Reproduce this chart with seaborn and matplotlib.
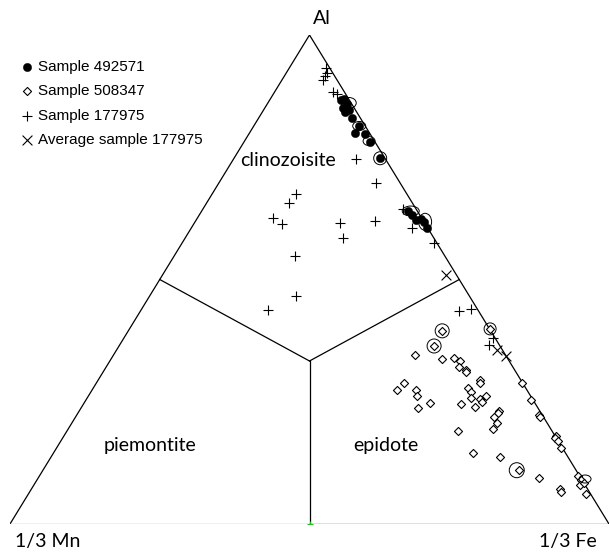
import numpy as np
import pandas as pd
import matplotlib
matplotlib.use("Agg")
import matplotlib.pyplot as plt
import seaborn as sns
from matplotlib.patches import Ellipse

# ---- data: ternary compositions in % (Al, Fe); Mn = 100 - Al - Fe ----
s492571_al = [86.7, 86.9, 85.9, 85.1, 84.3, 84.7, 83.0, 81.4, 80.0, 79.8, 78.1, 74.8,
              64.0, 63.2, 62.2, 62.4, 61.8, 60.5]
s492571_fe = [11.9, 12.3, 13.3, 13.0, 13.8, 14.2, 15.6, 17.6, 17.6, 19.4, 21.0, 24.4,
              34.4, 35.5, 36.7, 37.4, 38.2, 39.4]

s508347_al = [39.5, 36.4, 34.5, 33.8, 33.9, 33.3, 32.1, 31.4, 31.0, 29.5,
              28.8, 28.8, 27.5, 27.5, 26.2, 23.7, 24.8, 27.8, 26.9, 25.7,
              25.6, 24.9, 26.2, 23.9, 24.5, 23.1, 22.8, 21.8, 20.7, 19.4,
              19.1, 14.6, 13.7, 39.9, 28.9, 25.3, 22.3, 21.9, 18.0, 17.5,
              17.0, 15.5, 11.0, 9.5, 7.1, 6.5, 9.9, 9.0, 8.0, 8.4, 6.1]
s508347_fe = [52.4, 52.6, 50.4, 55.2, 57.1, 58.5, 58.9, 60.5, 60.6, 63.7,
              64.1, 51.3, 50.8, 54.0, 54.8, 56.2, 57.8, 62.6, 63.5, 64.1,
              65.7, 66.3, 66.4, 65.7, 63.1, 70.1, 70.1, 69.9, 71.0, 70.9,
              65.2, 70.0, 74.9, 60.2, 71.0, 74.4, 77.1, 77.5, 82.1, 82.3,
              83.0, 84.2, 79.5, 83.6, 88.3, 88.7, 89.9, 90.9, 91.2, 91.6, 93.1]

s177975_al = [93.3, 92.2, 90.8, 91.6, 88.3, 87.9, 74.6, 69.8, 62.0, 67.4, 65.6, 62.5,
              61.3, 61.6, 58.4, 54.8, 46.7, 43.7, 64.5, 60.5, 57.5, 43.6, 43.9, 38.0, 36.7]
s177975_fe = [6.1, 6.8, 6.9, 6.8, 9.8, 10.6, 20.5, 26.2, 29.9, 14.1, 13.7, 12.7,
              14.8, 24.3, 26.4, 20.1, 24.4, 21.2, 33.3, 36.9, 42.1, 53.2, 55.0, 61.6, 61.7]

avg177975_al = [50.9, 35.5, 34.3]
avg177975_fe = [47.3, 63.5, 65.7]

# highlighted analyses (open rings)
ring_al = [86.1, 81.4, 78.3, 74.8, 64.0, 61.8, 39.5, 36.4, 39.9, 11.0, 9.2]
ring_fe = [13.5, 17.6, 20.8, 24.4, 34.9, 38.4, 52.4, 52.6, 60.2, 79.1, 91.4]

series_labels = ["Sample 492571", "Sample 508347", "Sample 177975", "Average sample 177975"]
vertex_labels = ["Al", "1/3 Mn", "1/3 Fe"]
field_labels = ["clinozoisite", "piemontite", "epidote"]

# ---- styles ----
ring_w_px = [15, 13, 12, 13, 17, 13, 14, 14, 12, 15, 12]
ring_h_px = [11, 9, 9, 13, 10, 17, 14, 14, 12, 15, 8]


def to_xy(al, fe):
    al = np.asarray(al, dtype=float) / 100.0
    fe = np.asarray(fe, dtype=float) / 100.0
    return fe + al / 2.0, al


W, H = 610, 554
fig = plt.figure(figsize=(W / 100, H / 100), dpi=100)
fig.patch.set_facecolor("white")
# triangle: left (10,524), right (609,524), apex (310,35) in pixels
L, R, T, B = 10, 609, 35, 524
ax = fig.add_axes([L / W, 1 - B / H, (R - L) / W, (B - T) / H])
ax.set_xlim(0, 1)
ax.set_ylim(0, 1)
ax.axis("off")

# triangle outline and field boundaries
vx, vy = to_xy([0, 0, 100], [0, 100, 0])  # Mn, Fe, Al vertices
ax.plot([vx[1], vx[2], vx[0]], [vy[1], vy[2], vy[0]], color="black", lw=0.9, zorder=1)
mx, my = to_xy([0, 0], [0, 50])
ax.plot([mx[0], mx[1]], [my[0], my[1]], color="#8a8a8a", lw=0.9, zorder=1)
ax.plot([mx[1], vx[1]], [my[1], vy[1]], color="black", lw=0.9, zorder=1)
cx, cy = to_xy([100 / 3], [100 / 3])
for a, f in [(50, 50), (50, 0), (0, 50)]:
    px, py = to_xy([a], [f])
    ax.plot([cx[0], px[0]], [cy[0], py[0]], color="black", lw=0.9, zorder=1)
gx, gy = to_xy([0], [50])
ax.plot(gx, gy, marker="+", color="#22bb22", ms=4, mew=0.8, zorder=2)

# data series
x1, y1 = to_xy(s492571_al, s492571_fe)
x2, y2 = to_xy(s508347_al, s508347_fe)
x3, y3 = to_xy(s177975_al, s177975_fe)
x4, y4 = to_xy(avg177975_al, avg177975_fe)
d1 = pd.DataFrame({"x": x1, "y": y1})
d2 = pd.DataFrame({"x": x2, "y": y2})
d3 = pd.DataFrame({"x": x3, "y": y3})
d4 = pd.DataFrame({"x": x4, "y": y4})

sns.scatterplot(data=d1, x="x", y="y", ax=ax, marker="o", s=36, color="black",
                edgecolor="black", linewidth=0.3, label=series_labels[0], zorder=4)
sns.scatterplot(data=d2, x="x", y="y", ax=ax, marker="D", s=17, facecolor="white",
                edgecolor="black", linewidth=0.8, label=series_labels[1], zorder=3)
sns.scatterplot(data=d3, x="x", y="y", ax=ax, marker="+", s=55, color="black",
                linewidth=0.8, label=series_labels[2], zorder=3)
sns.scatterplot(data=d4, x="x", y="y", ax=ax, marker="x", s=50, color="black",
                linewidth=0.8, label=series_labels[3], zorder=3)
ax.set_xlabel("")
ax.set_ylabel("")

rx, ry = to_xy(ring_al, ring_fe)
for xx, yy, w, h in zip(rx, ry, ring_w_px, ring_h_px):
    ax.add_patch(Ellipse((xx, yy), w / (R - L), h / (B - T), fill=False,
                         ec="black", lw=0.7, zorder=5))

leg = ax.legend(loc="upper left", bbox_to_anchor=(21 / W, 1 - 60 / H),
                bbox_transform=fig.transFigure, frameon=False, borderpad=0,
                handlelength=0.8, handletextpad=0.3, labelspacing=0.68,
                borderaxespad=0, prop={"family": "Liberation Sans", "size": 11})


def ptext(x, y, s, **kw):
    fig.text(x / W, 1 - y / H, s, ha="center", va="center", **kw)


lab_font = {"family": "Lato", "size": 14}
ptext(322, 19, vertex_labels[0], fontdict=lab_font)
ptext(48, 542, vertex_labels[1], fontdict=lab_font)
ptext(568, 542, vertex_labels[2], fontdict=lab_font)
ptext(288, 160, field_labels[0], fontdict=lab_font)
ptext(150, 445, field_labels[1], fontdict=lab_font)
ptext(386, 445, field_labels[2], fontdict=lab_font)

fig.savefig("out.png", dpi=100, facecolor="white")
